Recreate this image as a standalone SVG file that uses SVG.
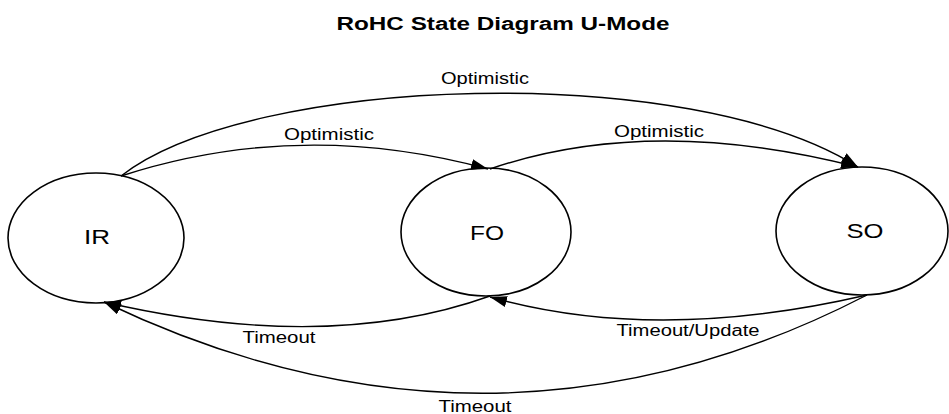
<svg xmlns="http://www.w3.org/2000/svg" width="949" height="414" viewBox="0 0 949 414">
  <style>
    text { font-family: "Liberation Sans", Arial, sans-serif; fill: #000; }
    .title { font-size: 18px; font-weight: bold; }
    .state { font-size: 20px; }
    .label { font-size: 16px; }
    .node ellipse { fill: #fff; stroke: #000; stroke-width: 1.6; }
    .edge { fill: none; stroke: #000; stroke-width: 1.4; }
  </style>
  <defs>
    <marker id="arrow" markerUnits="userSpaceOnUse" markerWidth="18" markerHeight="11" refX="17" refY="5.5" orient="auto">
      <path d="M0,0 L17,5.5 L0,11 z" fill="#000"/>
    </marker>
  </defs>
  <rect width="949" height="414" fill="#fff"/>

  <text class="title" x="503" y="30" text-anchor="middle" textLength="333" lengthAdjust="spacingAndGlyphs">RoHC State Diagram U-Mode</text>

  <!-- states -->
  <g id="node-IR" class="node">
    <ellipse cx="96" cy="238" rx="88" ry="65"/>
    <text class="state" x="97" y="244" text-anchor="middle" textLength="26" lengthAdjust="spacingAndGlyphs">IR</text>
  </g>
  <g id="node-FO" class="node">
    <ellipse cx="486" cy="232" rx="85" ry="64"/>
    <text class="state" x="487" y="240" text-anchor="middle" textLength="34" lengthAdjust="spacingAndGlyphs">FO</text>
  </g>
  <g id="node-SO" class="node">
    <ellipse cx="862" cy="231" rx="86" ry="64"/>
    <text class="state" x="865" y="238" text-anchor="middle" textLength="37" lengthAdjust="spacingAndGlyphs">SO</text>
  </g>

  <!-- transitions -->
  <g id="connectors">
    <path class="edge" d="M121,176 C250,75 690,60 858,167" marker-end="url(#arrow)"/>
    <path class="edge" d="M121,176 Q300,118 488,169" marker-end="url(#arrow)"/>
    <path class="edge" d="M490,169 Q650,114 858,167" marker-end="url(#arrow)"/>
    <path class="edge" d="M490,296 Q328,354 104,302" marker-end="url(#arrow)"/>
    <path class="edge" d="M867,295 Q656,344 490,297" marker-end="url(#arrow)"/>
    <path class="edge" d="M867,295 Q493,488 104,302" marker-end="url(#arrow)"/>

    <text class="label" x="485" y="84" text-anchor="middle" textLength="88" lengthAdjust="spacingAndGlyphs">Optimistic</text>
    <text class="label" x="329" y="140" text-anchor="middle" textLength="90" lengthAdjust="spacingAndGlyphs">Optimistic</text>
    <text class="label" x="659" y="137" text-anchor="middle" textLength="90" lengthAdjust="spacingAndGlyphs">Optimistic</text>
    <text class="label" x="279" y="343" text-anchor="middle" textLength="73" lengthAdjust="spacingAndGlyphs">Timeout</text>
    <text class="label" x="688" y="336" text-anchor="middle" textLength="143" lengthAdjust="spacingAndGlyphs">Timeout/Update</text>
    <text class="label" x="475" y="412" text-anchor="middle" textLength="73" lengthAdjust="spacingAndGlyphs">Timeout</text>
  </g>
</svg>
